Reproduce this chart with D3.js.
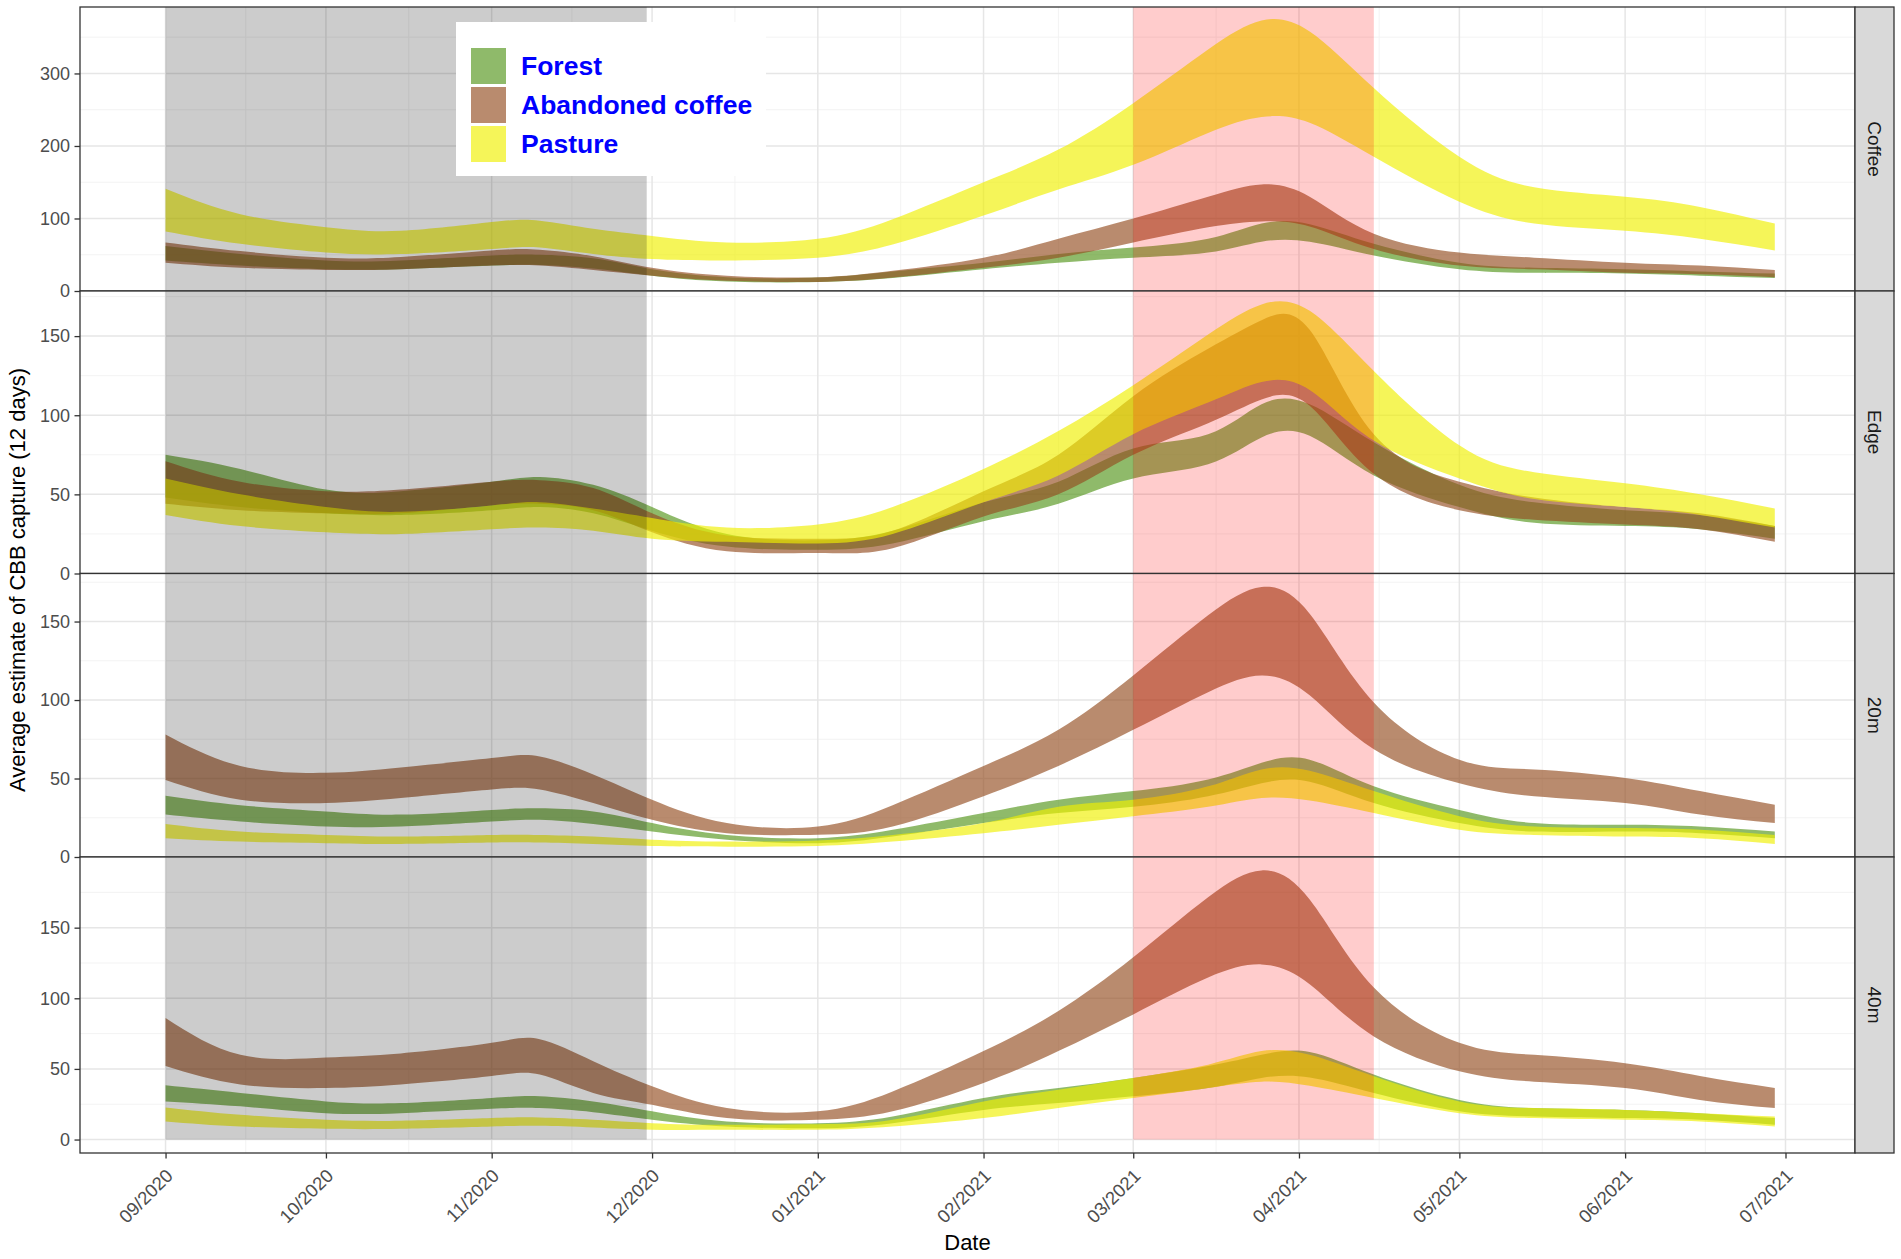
<!doctype html>
<html>
<head>
    <meta charset="utf-8">
    <script src="https://d3js.org/d3.v7.min.js"></script>
</head>
<style>
    body { margin: 0; background: white; }
    svg text { font-family: "Liberation Sans", Arial, sans-serif; }
</style>
<body>
<script>
    // sample dates shared by every ribbon
    var dates = ["2020-09-01","2020-09-15","2020-10-01","2020-10-15","2020-11-01","2020-11-10","2020-11-20",
                 "2020-12-01","2020-12-15","2021-01-01","2021-01-15","2021-02-01","2021-02-15","2021-03-01",
                 "2021-03-15","2021-03-25","2021-04-03","2021-04-15","2021-05-01","2021-05-15","2021-06-01",
                 "2021-06-15","2021-06-29"];

    var facets = ["Coffee", "Edge", "20m", "40m"];
    var habitats = ["Forest", "Abandoned coffee", "Pasture"];
    var colors = ["#53951a", "#934d20", "#f0f000"];

    // Coffee row
    var coffee_forest_lo = [42,35,30,30,35,36,31,21,13,12.5,18,30,39,46,53,68,68,49,30,25,24,21,18];
    var coffee_forest_hi = [62,51,42,42,49,50,45,30,19,18.5,27,39,51,60,72,93,92,65,39,32,30,27,24];
    var coffee_aband_lo  = [39,32,29,30,35,35,29,21,14,12.5,18.5,32,46,67,88,96,89,58,35,30,25,23,19];
    var coffee_aband_hi  = [67,55,46,47,56,57,48,32,21,19,28,46,72,100,130,147,130,79,53,46,39,35,29];
    var coffee_past_lo   = [82,65,53,51,58,60,51,44,42,46,64,104,140,174,218,240,232,185,123,93,83,72,56];
    var coffee_past_hi   = [141,106,88,83,95,97,86,76,67,72,99,150,195,259,333,373,358,280,185,143,130,116,93];

    // Edge row
    var edge_forest_lo = [48,42,38,37,40,42,38,27,17,15,19,33,44,60,69,86,87,62,42,32,30,28,22];
    var edge_forest_hi = [75,66,53,52,58,61,56,42,25,21,27,45,58,79,88,107,107,83,56,45,40,37,30];
    var edge_aband_lo  = [44,40,38,38,43,44,40,26,14,13,16,36,50,75,95,110,106,63,40,34,31,28,20];
    var edge_aband_hi  = [71,58,52,53,58,59,54,38,24,22,27,52,75,112,142,160,154,88,58,48,42,38,30];
    var edge_past_lo   = [37,30,26,25,28,29,27,22,20,19,25,45,62,88,108,121,116,84,60,47,42,37,29];
    var edge_past_hi   = [60,50,42,39,43,45,41,35,29,31,42,66,90,119,151,170,166,128,81,64,57,50,41];

    // 20m row
    var m20_forest_lo = [27,22.6,19.4,19.4,22.6,23.7,21,16.2,11,8.8,13,21.6,28,32,38.7,47,48,34.4,21.6,16.2,16.2,15.2,12];
    var m20_forest_hi = [39,33,29,27,30,31,29,21.6,14,12,17.3,28,36.5,42,49.4,60,62,45,30,21.6,20.5,19.4,16.2];
    var m20_aband_lo  = [49,36.5,34.4,37.6,43,43,34.4,23.7,15.2,14.1,19.4,38.7,58,81,105,115.6,103,68.6,47,38.7,34.4,27,21.6];
    var m20_aband_hi  = [78,58,53.6,57,63,64,52.6,36.5,21.6,19.4,33,58,81,115.6,154,172,155,98.5,62,55.8,50.4,42,33.3];
    var m20_past_lo   = [12,9.8,8.8,8.3,9.2,9.2,8.3,7,6.6,7,9.8,15.2,20.5,26,32,37.6,36,28,17.3,14,13,12,8.3];
    var m20_past_hi   = [21,16.2,14,13,14,14,13,11,9.8,10.5,14,21.6,32,36.5,45,55.8,55,42,26,19.4,18.4,17.3,14];

    // 40m row
    var m40_forest_lo = [27,23.5,18.7,18.7,21.8,22.3,19.4,14,9.2,8,11.6,21,25.8,30.6,36.5,43.6,44,33,20,16.4,15.2,14,10.4];
    var m40_forest_hi = [38.4,33,27,25.8,29.4,30.6,27,20,12.8,11.6,16.4,29.4,36.5,43.6,52,60,62,46,28,22.3,21,18.7,15.2];
    var m40_aband_lo  = [52,39,36.5,39,45,46,33,24.6,15.2,14,20,40,62.6,88.6,114.7,124,110,73,48.3,41,36.5,28,22.3];
    var m40_aband_hi  = [86,60,58,61,68.5,71,55.5,37.7,22.3,20,34,62.6,91,129,171.6,190.5,170,107.6,68.5,60,54,45,36.5];
    var m40_past_lo   = [12.8,9.2,7.6,7.6,9.2,9.7,8.5,6.9,6.9,6.9,9.2,15.2,22.3,29.4,36.5,41,38,29.4,18.7,15.2,14,12.8,9.2];
    var m40_past_hi   = [22.7,17.5,14,13.3,15.2,15.6,14,11.6,10.4,10.9,14,27,35.3,43.6,53,62.6,60,44.8,27,22.3,21,18.7,16.4];

    // shaded periods (grey, pink)
    var shadeStart = ["2020-09-01", "2021-03-01"];
    var shadeEnd   = ["2020-11-30", "2021-04-15"];
    var shadeColor = ["black", "red"];

    var xTickDates  = ["2020-09-01","2020-10-01","2020-11-01","2020-12-01","2021-01-01","2021-02-01",
                       "2021-03-01","2021-04-01","2021-05-01","2021-06-01","2021-07-01"];
    var xTickLabels = ["09/2020","10/2020","11/2020","12/2020","01/2021","02/2021",
                       "03/2021","04/2021","05/2021","06/2021","07/2021"];
    var yTicks = [[0,100,200,300], [0,50,100,150], [0,50,100,150], [0,50,100,150]];

    var series = [
        [[coffee_forest_lo, coffee_forest_hi], [coffee_aband_lo, coffee_aband_hi], [coffee_past_lo, coffee_past_hi]],
        [[edge_forest_lo, edge_forest_hi], [edge_aband_lo, edge_aband_hi], [edge_past_lo, edge_past_hi]],
        [[m20_forest_lo, m20_forest_hi], [m20_aband_lo, m20_aband_hi], [m20_past_lo, m20_past_hi]],
        [[m40_forest_lo, m40_forest_hi], [m40_aband_lo, m40_aband_hi], [m40_past_lo, m40_past_hi]]
    ];

    var width = 1901, height = 1259;
    var plotL = 80, plotR = 1855, stripR = 1894;
    var panelTop = [7, 291, 573.5, 857],
        panelBot = [291, 573.5, 857, 1153];

    var parse = d3.timeParse("%Y-%m-%d");
    var dts = dates.map(parse);

    var x = d3.scaleTime()
        .domain([parse("2020-08-16"), parse("2021-07-14")])
        .range([plotL, plotR]);

    var svg = d3.select("body").append("svg")
        .attr("width", width)
        .attr("height", height);

    var tickDates = xTickDates.map(parse);
    var minorX = [];
    for (var k = 0; k < tickDates.length - 1; k++) {
        minorX.push(new Date((+tickDates[k] + +tickDates[k + 1]) / 2));
    }

    facets.forEach(function(facet, i) {
        var top = panelTop[i], bot = panelBot[i];
        var maxV = d3.max(series[i], function(s) { return d3.max(s[1]); });
        // first three rows are cut at zero, the last keeps the lower expansion
        var y = d3.scaleLinear()
            .domain(i < 3 ? [0, maxV * 1.05] : [-maxV * 0.05, maxV * 1.05])
            .range([bot, top]);

        svg.append("clipPath").attr("id", "clip" + i)
            .append("rect").attr("x", plotL).attr("y", top)
            .attr("width", plotR - plotL).attr("height", bot - top);

        var g = svg.append("g").attr("clip-path", "url(#clip" + i + ")");

        g.append("rect").attr("x", plotL).attr("y", top)
            .attr("width", plotR - plotL).attr("height", bot - top)
            .attr("fill", "white");

        // grid: minor then major
        var yt = yTicks[i];
        var minorY = [];
        for (var m = 0; m < yt.length; m++) minorY.push(yt[m] + (yt[1] - yt[0]) / 2);

        g.selectAll(".minx").data(minorX).enter().append("line")
            .attr("x1", x).attr("x2", x).attr("y1", top).attr("y2", bot)
            .attr("stroke", "#f2f2f2").attr("stroke-width", 0.9);
        g.selectAll(".miny").data(minorY).enter().append("line")
            .attr("x1", plotL).attr("x2", plotR).attr("y1", y).attr("y2", y)
            .attr("stroke", "#f2f2f2").attr("stroke-width", 0.9);
        g.selectAll(".majx").data(tickDates).enter().append("line")
            .attr("x1", x).attr("x2", x).attr("y1", top).attr("y2", bot)
            .attr("stroke", "#e6e6e6").attr("stroke-width", 1.5);
        g.selectAll(".majy").data(yt).enter().append("line")
            .attr("x1", plotL).attr("x2", plotR).attr("y1", y).attr("y2", y)
            .attr("stroke", "#e6e6e6").attr("stroke-width", 1.5);

        // ribbons
        series[i].forEach(function(s, j) {
            var pts = dts.map(function(d, n) { return {date: d, lo: s[0][n], hi: s[1][n]}; });
            var area = d3.area()
                .x(function(d) { return x(d.date); })
                .y0(function(d) { return y(d.lo); })
                .y1(function(d) { return y(d.hi); })
                .curve(d3.curveNatural);
            g.append("path").datum(pts)
                .attr("d", area)
                .attr("fill", colors[j])
                .attr("fill-opacity", 0.65);
        });

        // shaded periods are drawn over the ribbons
        shadeStart.forEach(function(s, j) {
            var x0 = x(parse(s)), x1 = x(parse(shadeEnd[j]));
            g.append("rect")
                .attr("x", x0).attr("y", top)
                .attr("width", x1 - x0).attr("height", y(0) - top)
                .attr("fill", shadeColor[j]).attr("fill-opacity", 0.2);
        });

        svg.append("rect").attr("x", plotL).attr("y", top)
            .attr("width", plotR - plotL).attr("height", bot - top)
            .attr("fill", "none").attr("stroke", "#333").attr("stroke-width", 1.3);

        // y axis
        var ya = svg.append("g").attr("transform", "translate(" + plotL + ",0)")
            .call(d3.axisLeft(y).tickValues(yt).tickSize(5.5).tickPadding(4.5));
        ya.select(".domain").remove();
        ya.selectAll("line").attr("stroke", "#333").attr("stroke-width", 1.3);
        ya.selectAll("text").attr("fill", "#4d4d4d").style("font-size", "18px");

        // strip
        svg.append("rect").attr("x", plotR).attr("y", top)
            .attr("width", stripR - plotR).attr("height", bot - top)
            .attr("fill", "#d9d9d9").attr("stroke", "#333").attr("stroke-width", 1.3);
        svg.append("text")
            .attr("transform", "translate(" + (plotR + stripR) / 2 + "," + (top + bot) / 2 + ") rotate(90)")
            .attr("text-anchor", "middle")
            .attr("dy", "0.35em")
            .attr("fill", "#1a1a1a")
            .style("font-size", "19px")
            .text(facet);
    });

    // x axis under the last row
    var xa = svg.append("g").attr("transform", "translate(0," + panelBot[3] + ")")
        .call(d3.axisBottom(x).tickValues(tickDates).tickSize(5.5)
            .tickFormat(function(d, i) { return xTickLabels[i]; }));
    xa.select(".domain").remove();
    xa.selectAll("line").attr("stroke", "#333").attr("stroke-width", 1.3);
    xa.selectAll("text")
        .attr("x", 0).attr("y", 0).attr("dy", null)
        .attr("text-anchor", "end")
        .attr("transform", "translate(8,24) rotate(-45)")
        .attr("fill", "#4d4d4d")
        .style("font-size", "18.5px");

    svg.append("text")
        .attr("x", (plotL + plotR) / 2).attr("y", 1250)
        .attr("text-anchor", "middle")
        .style("font-size", "22px")
        .text("Date");

    svg.append("text")
        .attr("transform", "translate(25," + (panelTop[0] + panelBot[3]) / 2 + ") rotate(-90)")
        .attr("text-anchor", "middle")
        .style("font-size", "22px")
        .text("Average estimate of CBB capture (12 days)");

    // legend inside the top panel
    var legend = svg.append("g");
    legend.append("rect").attr("x", 456).attr("y", 22).attr("width", 310).attr("height", 154).attr("fill", "white");
    var item = legend.selectAll(".item").data(habitats).enter().append("g")
        .attr("transform", function(d, i) { return "translate(471," + (48 + i * 39) + ")"; });
    item.append("rect").attr("width", 35).attr("height", 36)
        .attr("fill", function(d, i) { return colors[i]; })
        .attr("fill-opacity", 0.65);
    item.append("text").attr("x", 50).attr("y", 27)
        .attr("fill", "#0000ff")
        .style("font-size", "26.5px").style("font-weight", "bold")
        .text(function(d) { return d; });
</script>
</body>
</html>
